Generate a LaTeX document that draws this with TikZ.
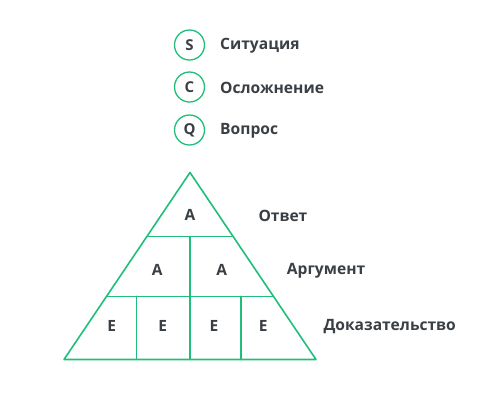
\documentclass[tikz,border=0pt]{standalone}
\usepackage{fontspec}
\setmainfont{Open Sans}
\usetikzlibrary{calc, positioning}

\definecolor{scqgreen}{RGB}{32,190,122}
\definecolor{scqtext}{RGB}{58,63,68}

\tikzset{
  edge/.style={draw=scqgreen, line width=1.6pt, line cap=round, line join=round},
  badge/.style={circle, draw=scqgreen, line width=1.3pt, minimum size=30pt, inner sep=0pt, text=scqtext, font=\fontsize{15}{18}\selectfont\bfseries},
  caption/.style={anchor=west, inner sep=0pt, text=scqtext, font=\fontsize{15.6}{18}\selectfont\bfseries},
  cell/.style={inner sep=0pt, text=scqtext, font=\fontsize{15.5}{18}\selectfont\bfseries}
}

\begin{document}
\begin{tikzpicture}[x=1pt, y=-1pt]
            \useasboundingbox (0,0) rectangle (477,400);

            % legend
            \node[badge] (s) at (189.5,45) {S};
            \node[badge] (c) at (189.5,87) {C};
            \node[badge] (q) at (189.5,130) {Q};
            \node[caption] (sit) at (220,46) {Ситуация};
            \node[caption] (osl) at (220,88) {Осложнение};
            \node[caption] (vop) at (220,131) {Вопрос};

            % pyramid
            \coordinate (apex) at (190,172.5);
            \coordinate (bl) at (64,359.5);
            \coordinate (br) at (316,359.5);
            \coordinate (l1) at ($(apex)!0.342!(bl)$);
            \coordinate (r1) at ($(apex)!0.342!(br)$);
            \coordinate (l2) at ($(apex)!0.662!(bl)$);
            \coordinate (r2) at ($(apex)!0.662!(br)$);
            \coordinate (m1) at (l1 -| apex);
            \coordinate (mb) at (bl -| apex);
            \coordinate (e1t) at (136.3,0 |- l2);
            \coordinate (e1b) at (136.3,0 |- bl);
            \coordinate (e3t) at (240.7,0 |- l2);
            \coordinate (e3b) at (240.7,0 |- bl);
            \draw[edge] (apex) -- (br) -- (bl) -- cycle;
            \draw[edge] (l1) -- (r1);
            \draw[edge] (l2) -- (r2);
            \draw[edge] (m1) -- (mb);
            \draw[edge] (e1t) -- (e1b);
            \draw[edge] (e3t) -- (e3b);

            % cells
            \node[cell] (a0) at (190,215) {A};
            \node[cell] (a1) at (157.3,270) {A};
            \node[cell] (a2) at (221.7,270) {A};
            \node[cell] (e0) at (111.7,326) {E};
            \node[cell] (e1) at (162.7,326) {E};
            \node[cell] (e2) at (214,326) {E};
            \node[cell] (e3) at (263.3,326) {E};

            % levels
            \node[caption] (otv) at (258.3,216) {Ответ};
            \node[caption] (arg) at (286.7,271) {Аргумент};
            \node[caption] (dok) at (323.3,327) {Доказательство};
     \end{tikzpicture}
\end{document}
